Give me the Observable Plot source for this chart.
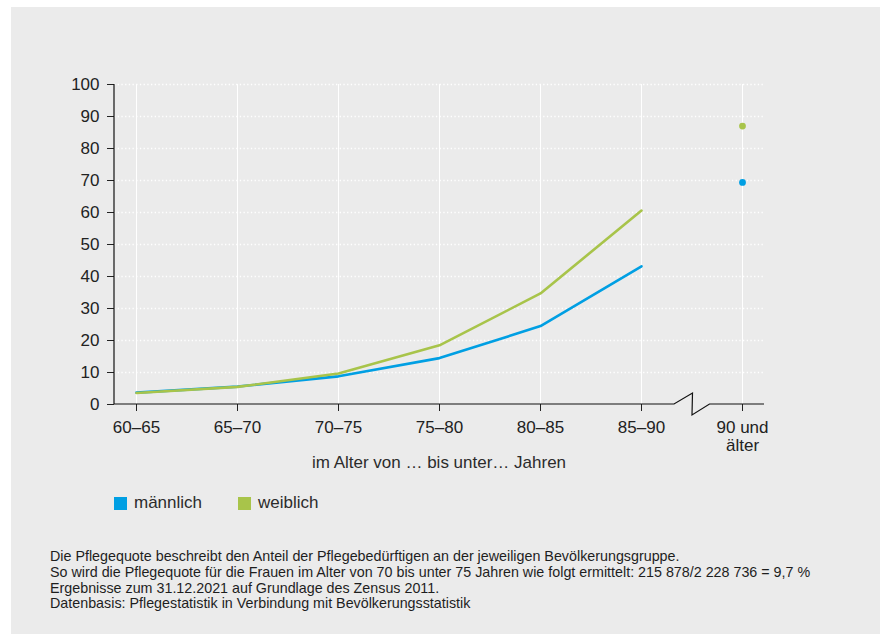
<!DOCTYPE html>
<html>
<head>
<meta charset="utf-8">
<script src="https://cdn.jsdelivr.net/npm/d3@7"></script>
<script src="https://cdn.jsdelivr.net/npm/@observablehq/plot@0.6"></script>
<style>
  html, body { margin: 0; padding: 0; background: #ffffff; }
  body { width: 883px; height: 634px; position: relative; overflow: hidden;
         font-family: "Liberation Sans", Arial, sans-serif; color: #2b2b2b; }
  #panel { position: absolute; left: 11px; top: 7px; width: 869px; height: 627px; background: #ebebeb; }
  #chart { position: absolute; left: 0; top: 0; }
  #xtitle { position: absolute; left: 103px; width: 650px; top: 447px; text-align: center;
            font-size: 17px; line-height: 18px; }
  .leg { position: absolute; top: 487px; font-size: 17px; line-height: 18px; }
  .sw { position: absolute; top: 3px; width: 13px; height: 13px; }
  #notes { position: absolute; left: 39px; top: 542px; font-size: 14.3px; line-height: 15.8px; white-space: nowrap; color: #1e1e1e; }
</style>
</head>
<body>
<div id="panel">
  <div id="chart"></div>
  <div id="xtitle"></div>
  <div id="legend"></div>
  <div id="notes"></div>
</div>
<script>
// ---- data ----
const ageGroups = ["60–65", "65–70", "70–75", "75–80", "80–85", "85–90", "90 und älter"];
const maleRates = [3.7, 5.6, 8.8, 14.5, 24.5, 43.2, 69.4];
const femaleRates = [3.6, 5.5, 9.7, 18.5, 34.7, 60.6, 87.0];
const seriesNames = ["männlich", "weiblich"];
const seriesColors = ["#009fe3", "#a8c44a"];
const yTicks = [0, 10, 20, 30, 40, 50, 60, 70, 80, 90, 100];
const xTitle = "im Alter von … bis unter… Jahren";
const notes = [
  "Die Pflegequote beschreibt den Anteil der Pflegebedürftigen an der jeweiligen Bevölkerungsgruppe.",
  "So wird die Pflegequote für die Frauen im Alter von 70 bis unter 75 Jahren wie folgt ermittelt: 215 878/2 228 736 = 9,7 %",
  "Ergebnisse zum 31.12.2021 auf Grundlage des Zensus 2011.",
  "Datenbasis: Pflegestatistik in Verbindung mit Bevölkerungsstatistik"
];

// ---- table ----
const rows = [];
ageGroups.forEach((a, i) => {
  rows.push({age: a, rate: maleRates[i], series: seriesNames[0]});
  rows.push({age: a, rate: femaleRates[i], series: seriesNames[1]});
});
const lastGroup = ageGroups[ageGroups.length - 1];
const lineRows = rows.filter(d => d.age !== lastGroup);
const dotRows = rows.filter(d => d.age === lastGroup);

// axis lines with a break between the last two categories
function axesWithBreak(index, scales, values, dims) {
  const {x, y} = scales;
  const x0 = dims.marginLeft, x1 = dims.width - dims.marginRight;
  const yb = y(0), yt = y(100);
  const a = x(ageGroups[ageGroups.length - 2]), b = x(lastGroup);
  const m = (a + b) / 2;
  const g = d3.create("svg:g").attr("fill", "none").attr("stroke", "#111").attr("stroke-width", 1.2);
  g.append("path").attr("d", `M${x0},${yt}V${yb}`);
  g.append("path").attr("d",
    `M${x0},${yb}H${m - 17.5}L${m + 1},${yb - 11}L${m + 0.5},${yb + 11}L${m + 18},${yb}H${x1}`);
  return g.node();
}

const chart = Plot.plot({
  width: 869,
  height: 450,
  marginLeft: 103,
  marginRight: 116,
  marginTop: 77,
  marginBottom: 53,
  style: {fontFamily: "'Liberation Sans', Arial, sans-serif", fontSize: "17px", background: "transparent", color: "#2b2b2b"},
  x: {type: "point", domain: ageGroups, padding: 0.2, label: null},
  y: {domain: [0, 100], label: null},
  marks: [
    Plot.gridY(yTicks.filter(t => t > 0), {stroke: "#ffffff", strokeOpacity: 1, strokeWidth: 1.6, strokeDasharray: "1.3,2.4"}),
    Plot.gridX({stroke: "#ffffff", strokeOpacity: 1, strokeWidth: 1}),
    Plot.axisY({ticks: yTicks, tickSize: 7, tickPadding: 8, label: null, color: "#222"}),
    Plot.axisX({tickSize: 7, tickPadding: 8, label: null, color: "#222", lineHeight: 1.1,
      tickFormat: d => d === lastGroup ? "90 und\nälter" : d}),
    Plot.line(lineRows, {x: "age", y: "rate", z: "series",
      stroke: d => seriesColors[seriesNames.indexOf(d.series)], strokeWidth: 2.6, strokeLinejoin: "miter"}),
    Plot.dot(dotRows, {x: "age", y: "rate", r: 3.4,
      fill: d => seriesColors[seriesNames.indexOf(d.series)], stroke: null}),
    axesWithBreak
  ]
});
document.getElementById("chart").appendChild(chart);

// legend
const legend = document.getElementById("legend");
const legX = [103, 227];
seriesNames.forEach((n, i) => {
  const item = document.createElement("div");
  item.className = "leg";
  item.style.left = legX[i] + "px";
  item.innerHTML = `<span class="sw" style="left:0;background:${seriesColors[i]}"></span><span style="margin-left:20px">${n}</span>`;
  legend.appendChild(item);
});

document.getElementById("xtitle").textContent = xTitle;
document.getElementById("notes").innerHTML = notes.map(t => `<div>${t}</div>`).join("");
</script>
</body>
</html>
